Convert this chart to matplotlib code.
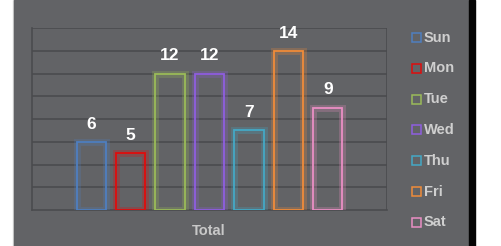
import matplotlib.pyplot as plt
import matplotlib.patheffects as pe
from matplotlib.patches import Rectangle

days = ["Sun", "Mon", "Tue", "Wed", "Thu", "Fri", "Sat"]
totals = [6, 5, 12, 12, 7, 14, 9]
colors = ["#4f7fc0", "#e00c0c", "#9bbb59", "#8f5ee0", "#44a9c6", "#f08c3a", "#ea8fc4"]
x_label = "Total"

plt.rcParams["font.family"] = ["Liberation Sans", "DejaVu Sans"]

fig = plt.figure(figsize=(5.01, 2.46), dpi=100)
fig.patch.set_facecolor("white")

W, H = 501, 246
# background panels
fig.add_artist(Rectangle((13 / W, 0), 1 / W, 1, transform=fig.transFigure,
                         color="#d8d8d8", zorder=0))
fig.add_artist(Rectangle((14 / W, 0), 455 / W, 1, transform=fig.transFigure,
                         color="#626366", zorder=0))
fig.add_artist(Rectangle((469 / W, 0), 6 / W, 1, transform=fig.transFigure,
                         color="#050505", zorder=0))

ax = fig.add_axes([32 / W, 1 - 210 / H, 355 / W, 182 / H])
ax.set_facecolor("none")
ax.set_xlim(-1.5, 7.5)
ax.set_ylim(0, 16)
ax.set_yticks(range(0, 17, 2))
for y in range(2, 17, 2):
    ax.axhline(y, color="#4a4b4e", lw=1.2, zorder=1)
for s in ["top", "right"]:
    ax.spines[s].set_visible(False)
for s in ["left", "bottom"]:
    ax.spines[s].set_color("#4a4b4e")
    ax.spines[s].set_linewidth(1.2)
ax.axvline(7.5, color="#4a4b4e", lw=1.2, zorder=1)
ax.tick_params(left=False, bottom=False, labelleft=False, labelbottom=False)

xs = list(range(len(days)))
bars = ax.bar(xs, totals, width=0.74, facecolor="none", linewidth=1.3, zorder=3)
for b, c in zip(bars, colors):
    b.set_edgecolor(c)
    b.set_path_effects([
        pe.Stroke(linewidth=5, foreground=c, alpha=0.25),
        pe.Normal(),
    ])

for xi, v in zip(xs, totals):
    ax.text(xi, v + 1.55, str(v), ha="center", va="center", color="white",
            fontsize=12.5, fontweight="bold")

fig.text(209 / W, 1 - 231 / H, x_label, ha="center", va="center",
         color="#c8c8c8", fontsize=10.5, fontweight="bold")

# legend
for i, (d, c) in enumerate(zip(days, colors)):
    yc = 1 - (37.5 + i * 30.8) / H
    fig.add_artist(Rectangle((412 / W, yc - 4.5 / H), 9 / W, 9 / H,
                             transform=fig.transFigure, facecolor="none",
                             edgecolor=c, lw=1.1))
    fig.text(424 / W, yc, d, ha="left", va="center", color="#cfcfcf",
             fontsize=10.5, fontweight="bold")

fig.savefig("out.png", dpi=100)
